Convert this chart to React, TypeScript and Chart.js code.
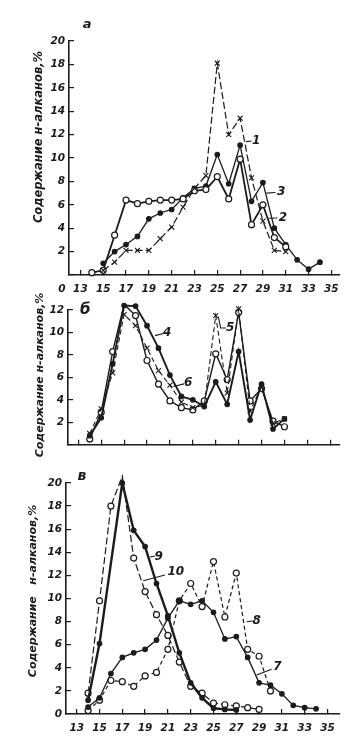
import React, { useEffect, useRef } from 'react';
import { Chart, registerables } from 'chart.js';

Chart.register(...registerables);

// ---------- data ----------
const carbonsA = [14, 15, 16, 17, 18, 19, 20, 21, 22, 23, 24, 25, 26, 27, 28, 29, 30, 31, 32, 33, 34];
const seriesA1 = [null, 0.4, 1.1, 2.1, 2.1, 2.1, 3.1, 4.1, 5.8, 7.4, 8.5, 18.1, 12.0, 13.4, 8.3, 4.6, 2.1, 2.0, null, null, null];
const seriesA2 = [0.2, 0.4, 3.4, 6.4, 6.1, 6.3, 6.4, 6.4, 6.5, 7.2, 7.3, 8.4, 6.5, 9.9, 4.3, 6.0, 3.2, 2.4, null, null, null];
const seriesA3 = [null, 1.0, 2.0, 2.6, 3.3, 4.8, 5.3, 5.6, 6.6, 7.4, 7.6, 10.3, 7.8, 11.1, 6.3, 7.9, 4.0, 2.6, 1.3, 0.5, 1.1];

const carbonsB = [14, 15, 16, 17, 18, 19, 20, 21, 22, 23, 24, 25, 26, 27, 28, 29, 30, 31];
const seriesB4 = [0.8, 2.4, 7.2, 12.4, 12.35, 10.6, 8.6, 6.2, 4.3, 4.0, 3.4, 5.6, 3.6, 8.3, 2.2, 5.4, 1.4, 2.3];
const seriesB5 = [1.0, 3.2, 6.4, 11.6, 10.6, 8.6, 6.6, 5.3, 3.8, 3.3, 3.5, 11.5, 4.6, 12.1, 3.0, 5.2, 1.9, 2.3];
const seriesB6 = [0.5, 2.9, 8.3, 12.5, 11.5, 7.5, 5.4, 3.9, 3.3, 3.1, 3.9, 8.1, 5.8, 11.8, 3.9, 5.0, 2.1, 1.6];

const carbonsC = [14, 15, 16, 17, 18, 19, 20, 21, 22, 23, 24, 25, 26, 27, 28, 29, 30, 31, 32, 33, 34];
const seriesC7 = [0.6, 1.4, 3.5, 4.9, 5.3, 5.6, 6.4, 8.3, 9.8, 9.5, 9.8, 8.8, 6.5, 6.7, 4.9, 2.7, 2.5, 1.75, 0.75, 0.55, 0.45];
const seriesC8 = [0.3, 1.2, 2.9, 2.8, 2.4, 3.3, 3.6, 5.6, 9.8, 11.3, 9.3, 13.2, 8.4, 12.2, 5.6, 5.0, 2.0, null, null, null, null];
const seriesC9 = [1.2, 6.1, null, 20.0, 15.9, 14.5, 11.3, 8.5, 5.3, 2.7, 1.4, 0.5, 0.4, 0.35, null, null, null, null, null, null, null];
const seriesC10 = [1.8, 9.8, 18.0, 20.6, 13.5, 10.6, 8.6, 6.8, 4.5, 2.4, 1.8, 0.95, 0.8, 0.7, 0.55, 0.4, null, null, null, null, null];

const xTickValues = [13, 15, 17, 19, 21, 23, 25, 27, 29, 31, 33, 35];
const yTicksA = [0, 2, 4, 6, 8, 10, 12, 14, 16, 18, 20];
const yTicksB = [0, 2, 4, 6, 8, 10, 12];
const yTicksC = [0, 2, 4, 6, 8, 10, 12, 14, 16, 18, 20];

const yTitle = 'Содержание н-алканов,%';
const yTitleWide = 'Содержание   н-алканов,%';

// ---------- styling ----------
const INK = '#1b1b1b';
const FAMILY = '"DejaVu Sans", "Liberation Sans", sans-serif';

type Marker = 'open' | 'dot' | 'cross';

function pts(xs: number[], ys: (number | null)[]) {
  return xs.map((x, i) => ({ x, y: ys[i] })).filter((p) => p.y !== null);
}

function ds(label: string, xs: number[], ys: (number | null)[], marker: Marker, width: number, dash: number[] = []) {
  return {
    label,
    data: pts(xs, ys),
    borderColor: INK,
    borderWidth: width,
    borderDash: dash,
    pointStyle: marker === 'cross' ? 'crossRot' : 'circle',
    pointRadius: marker === 'open' ? 3 : marker === 'dot' ? 2.3 : 3.5,
    pointBackgroundColor: marker === 'open' ? '#ffffff' : INK,
    pointBorderColor: INK,
    pointBorderWidth: marker === 'open' ? 1.2 : 1.1,
    tension: 0,
    fill: false,
    spanGaps: true,
    clip: false as any,
  };
}

type Ann = {
  letter: { text: string; at: [number, number]; size: number };
  title: { text: string; x: number; y: number; size: number };
  labels: { text: string; at: [number, number]; leader: [number, number][] }[];
  zeroLabel?: boolean;
};

function annotPlugin(ann: Ann) {
  return {
    id: 'annot',
    afterDraw(chart: any) {
      const ctx = chart.ctx as CanvasRenderingContext2D;
      const xs = chart.scales.x;
      const ys = chart.scales.y;
      const X = (v: number) => xs.getPixelForValue(v);
      const Y = (v: number) => ys.getPixelForValue(v);
      ctx.save();
      ctx.fillStyle = INK;
      ctx.strokeStyle = INK;
      ctx.lineWidth = 1.1;
      ctx.setLineDash([]);
      ctx.textAlign = 'center';
      ctx.textBaseline = 'middle';
      for (const l of ann.labels) {
        ctx.beginPath();
        l.leader.forEach(([a, b], i) => (i ? ctx.lineTo(X(a), Y(b)) : ctx.moveTo(X(a), Y(b))));
        ctx.stroke();
        ctx.font = `italic bold 12px ${FAMILY}`;
        ctx.fillText(l.text, X(l.at[0]), Y(l.at[1]));
      }
      ctx.font = `italic bold ${ann.letter.size}px ${FAMILY}`;
      ctx.fillText(ann.letter.text, X(ann.letter.at[0]), Y(ann.letter.at[1]));
      if (ann.zeroLabel) {
        ctx.font = `italic bold 10.5px ${FAMILY}`;
        ctx.fillText('0', chart.chartArea.left - 7, xs.top + 14);
      }
      ctx.translate(ann.title.x, ann.title.y);
      ctx.rotate(-Math.PI / 2);
      ctx.font = `italic bold ${ann.title.size}px ${FAMILY}`;
      ctx.fillText(ann.title.text, 0, 0);
      ctx.restore();
    },
  };
}

type PanelOpts = {
  height: number;
  area: { left: number; right: number; top: number; bottom: number };
  xMin: number;
  xMax: number;
  yMax: number;
  yTicks: number[];
  showZeroY: boolean;
  showXLabels: boolean;
  datasets: any[];
  ann: Ann;
};

function makeConfig(p: PanelOpts): any {
  const tickFont = { family: FAMILY, size: 10.5, style: 'italic', weight: 'bold' };
  return {
    type: 'line',
    data: { datasets: p.datasets },
    options: {
      responsive: false,
      animation: false,
      events: [],
      layout: { padding: { top: p.area.top, left: 0, right: 352 - p.area.right, bottom: 0 } },
      plugins: { legend: { display: false }, tooltip: { enabled: false } },
      scales: {
        x: {
          type: 'linear',
          min: p.xMin,
          max: p.xMax,
          afterBuildTicks: (s: any) => {
            s.ticks = xTickValues.map((v) => ({ value: v }));
          },
          afterFit: (s: any) => {
            s.height = p.height - p.area.bottom;
          },
          grid: { drawOnChartArea: false, color: INK, lineWidth: 1.2, tickLength: -5 },
          border: { color: INK, width: 1.6 },
          ticks: {
            display: p.showXLabels,
            color: INK,
            font: tickFont,
            padding: 13,
            maxRotation: 0,
            autoSkip: false,
            callback: (v: any) => String(v),
          },
        },
        y: {
          type: 'linear',
          min: 0,
          max: p.yMax,
          afterBuildTicks: (s: any) => {
            s.ticks = p.yTicks.map((v) => ({ value: v }));
          },
          afterFit: (s: any) => {
            s.width = p.area.left;
          },
          grid: { drawOnChartArea: false, color: INK, lineWidth: 1.2, tickLength: -5 },
          border: { color: INK, width: 1.6 },
          ticks: {
            color: INK,
            font: tickFont,
            padding: 9,
            autoSkip: false,
            callback: (v: any) => (v === 0 && !p.showZeroY ? '' : String(v)),
          },
        },
      },
    },
    plugins: [annotPlugin(p.ann)],
  };
}

const configA = () =>
  makeConfig({
    height: 300,
    area: { left: 69, right: 341, top: 41, bottom: 275 },
    xMin: 12,
    xMax: 35.7,
    yMax: 20,
    yTicks: yTicksA,
    showZeroY: false,
    showXLabels: true,
    datasets: [
      ds('1', carbonsA, seriesA1, 'cross', 1.2, [7, 3]),
      ds('2', carbonsA, seriesA2, 'open', 1.8),
      ds('3', carbonsA, seriesA3, 'dot', 1.3),
    ],
    ann: {
      letter: { text: 'а', at: [13.6, 21.4], size: 13 },
      title: { text: yTitle, x: 39, y: 137, size: 11.5 },
      zeroLabel: true,
      labels: [
        { text: '1', at: [28.4, 11.5], leader: [[27.5, 11.4], [28.0, 11.45]] },
        { text: '3', at: [30.6, 7.1], leader: [[29.3, 7.0], [30.1, 7.05]] },
        { text: '2', at: [30.75, 4.9], leader: [[29.5, 4.85], [30.25, 4.87]] },
      ],
    },
  });

const configB = () =>
  makeConfig({
    height: 180,
    area: { left: 68, right: 340, top: 30, bottom: 166.7 },
    xMin: 12.1,
    xMax: 35.85,
    yMax: 12,
    yTicks: yTicksB,
    showZeroY: false,
    showXLabels: false,
    datasets: [
      ds('4', carbonsB, seriesB4, 'dot', 1.9),
      ds('5', carbonsB, seriesB5, 'cross', 1.1, [5, 3]),
      ds('6', carbonsB, seriesB6, 'open', 1.4),
    ],
    ann: {
      letter: { text: 'б', at: [13.6, 12.0], size: 15 },
      title: { text: yTitle, x: 40, y: 95, size: 11 },
      labels: [
        { text: '4', at: [20.75, 9.95], leader: [[19.7, 9.72], [20.42, 9.9]] },
        { text: '5', at: [26.25, 10.4], leader: [[25.22, 11.41], [25.43, 10.4], [25.9, 10.4]] },
        { text: '6', at: [22.6, 5.48], leader: [[21.29, 5.18], [22.23, 5.42]] },
      ],
    },
  });

const configC = () =>
  makeConfig({
    height: 280,
    area: { left: 66, right: 340, top: 23, bottom: 254 },
    xMin: 12.06,
    xMax: 36.1,
    yMax: 20,
    yTicks: yTicksC,
    showZeroY: true,
    showXLabels: true,
    datasets: [
      ds('7', carbonsC, seriesC7, 'dot', 1.3),
      ds('8', carbonsC, seriesC8, 'open', 1.2, [4, 3]),
      ds('9', carbonsC, seriesC9, 'dot', 2.4),
      ds('10', carbonsC, seriesC10, 'open', 1.2, [7, 3]),
    ],
    ann: {
      letter: { text: 'в', at: [13.45, 20.55], size: 14 },
      title: { text: yTitleWide, x: 33, y: 131, size: 11 },
      labels: [
        { text: '9', at: [20.2, 13.57], leader: [[19.43, 13.6], [19.87, 13.68]] },
        { text: '10', at: [21.7, 12.32], leader: [[18.84, 11.54], [20.74, 12.03]] },
        { text: '8', at: [28.8, 8.08], leader: [[27.91, 7.99], [28.44, 8.05]] },
        { text: '7', at: [30.6, 4.04], leader: [[28.79, 3.38], [30.1, 3.87]] },
      ],
    },
  });

export default function App() {
  const refA = useRef<HTMLCanvasElement>(null);
  const refB = useRef<HTMLCanvasElement>(null);
  const refC = useRef<HTMLCanvasElement>(null);

  useEffect(() => {
    const charts = [
      new Chart(refA.current as HTMLCanvasElement, configA()),
      new Chart(refB.current as HTMLCanvasElement, configB()),
      new Chart(refC.current as HTMLCanvasElement, configC()),
    ];
    return () => charts.forEach((c) => c.destroy());
  }, []);

  return (
    <div style={{ position: 'absolute', left: 0, top: 0, width: 352, height: 740, background: '#ffffff', overflow: 'hidden' }}>
      <canvas ref={refA} width={352} height={300} style={{ position: 'absolute', left: 0, top: 0, width: 352, height: 300 }} />
      <canvas ref={refB} width={352} height={180} style={{ position: 'absolute', left: 0, top: 280, width: 352, height: 180 }} />
      <canvas ref={refC} width={352} height={280} style={{ position: 'absolute', left: 0, top: 460, width: 352, height: 280 }} />
    </div>
  );
}
